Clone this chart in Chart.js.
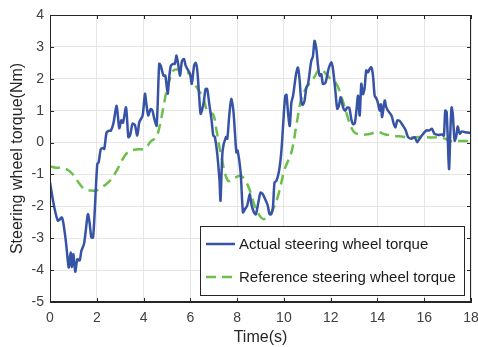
<!DOCTYPE html>
<html>
<head>
<meta charset="utf-8">
<script src="https://cdn.jsdelivr.net/npm/chart.js@4.4.0/dist/chart.umd.min.js"></script>
<style>
  html, body { margin: 0; padding: 0; background: #fff; }
  #wrap { width: 478px; height: 347px; position: relative; }
</style>
</head>
<body>
<div id="wrap"><canvas id="chart"></canvas></div>
<script>
// actual steering wheel torque
const timeActual = [0,0.17,0.34,0.51,0.63,0.70,0.80,0.88,0.93,1.0,1.08,1.17,1.27,1.34,1.45,1.52,1.62,1.69,1.77,1.84,1.91,2.02,2.08,2.17,2.26,2.32,2.42,2.52,2.6,2.71,2.85,2.96,3.05,3.12,3.25,3.35,3.42,3.53,3.63,3.73,3.82,3.96,4.06,4.12,4.2,4.3,4.38,4.46,4.56,4.67,4.74,4.85,4.93,5.03,5.1,5.17,5.27,5.34,5.41,5.49,5.56,5.64,5.73,5.8,5.88,5.99,6.06,6.16,6.23,6.3,6.38,6.44,6.51,6.58,6.65,6.72,6.81,6.91,6.98,7.05,7.15,7.22,7.25,7.29,7.38,7.52,7.58,7.67,7.75,7.84,7.91,7.97,8.02,8.15,8.25,8.33,8.43,8.54,8.61,8.72,8.8,8.92,9.0,9.1,9.2,9.3,9.39,9.46,9.53,9.6,9.68,9.78,9.86,9.92,10.0,10.06,10.11,10.17,10.25,10.32,10.39,10.46,10.53,10.6,10.67,10.74,10.8,10.88,10.96,11.03,11.1,11.17,11.24,11.31,11.39,11.46,11.53,11.6,11.67,11.78,11.91,12.03,12.1,12.2,12.28,12.35,12.43,12.53,12.62,12.71,12.8,12.88,12.95,13.03,13.1,13.17,13.24,13.31,13.38,13.45,13.52,13.59,13.66,13.74,13.81,13.88,13.94,14.0,14.1,14.15,14.2,14.31,14.38,14.45,14.6,14.7,14.77,14.85,14.95,15.09,15.2,15.31,15.45,15.59,15.7,15.8,15.95,16.09,16.2,16.33,16.44,16.6,16.76,16.84,16.9,16.96,17.06,17.12,17.17,17.22,17.3,17.37,17.43,17.52,17.61,17.75,18.0];
const torqueActual = [-1.25,-1.98,-2.45,-2.35,-2.82,-3.24,-3.92,-3.45,-3.9,-3.5,-4.05,-3.66,-3.7,-3.4,-3.19,-2.82,-2.25,-2.5,-2.98,-2.98,-2.19,-0.68,-0.62,-0.21,-0.17,-0.2,0.32,0.37,0.37,0.6,1.15,0.45,0.7,0.62,1.1,0.17,0.22,0.59,0.55,0.22,0.64,0.85,1.53,1.22,0.85,1.05,1.0,0.74,0.53,2.47,2.4,2.1,2.1,1.53,2.07,2.41,2.47,2.47,2.73,2.41,2.1,2.55,2.62,2.41,2.3,2.15,1.84,2.41,2.5,2.25,1.42,0.9,1.05,1.3,1.68,1.68,1.21,0.69,0.22,0.17,-0.35,-0.93,-1.2,-1.82,-0.25,0.17,0.12,0.9,1.37,1.0,0.27,-0.31,-0.25,-0.94,-2.19,-2.1,-1.98,-1.62,-1.93,-2.19,-2.25,-1.83,-1.57,-1.62,-1.78,-1.95,-2.25,-2.25,-2.04,-1.25,-1.2,-0.94,-0.52,0.0,0.94,1.46,1.5,0.99,0.52,1.25,1.46,1.83,2.19,2.35,1.98,1.31,1.18,1.3,1.72,1.83,2.19,2.56,2.7,3.19,2.92,2.4,2.1,2.14,1.84,1.88,2.31,2.52,2.3,1.63,1.06,1.15,1.42,1.1,1.0,1.1,1.08,0.74,0.58,0.6,1.0,1.47,0.85,1.84,1.52,1.7,2.26,2.2,2.3,2.36,2.1,1.47,1.4,1.3,1.0,1.2,0.8,1.32,1.1,1.0,0.85,0.58,0.48,0.69,0.68,0.53,0.4,0.17,0.12,0.17,0.01,0.12,0.27,0.38,0.38,0.43,0.27,0.24,0.25,0.22,1.0,0.95,-0.83,0.4,1.1,0.9,0.06,0.2,0.5,0.28,0.35,0.32,0.3];

// reference steering wheel torque
const timeRef = [0,0.2,0.5,0.77,0.98,1.27,1.48,1.84,2.0,2.41,2.65,2.91,3.19,3.41,3.76,4.05,4.33,4.54,4.69,4.83,4.97,5.12,5.26,5.47,5.76,5.97,6.19,6.54,6.75,6.97,7.11,7.32,7.61,7.9,8.18,8.47,8.75,8.97,9.15,9.46,9.75,10.03,10.32,10.53,10.74,10.96,11.24,11.55,11.96,12.24,12.45,12.67,12.88,13.05,13.31,13.6,14.02,14.3,14.74,15.02,15.45,15.88,16.3,16.73,16.95,17.05,17.5,18.0];
const torqueRef = [-0.75,-0.78,-0.8,-0.86,-1.0,-1.3,-1.46,-1.51,-1.5,-1.3,-1.12,-0.8,-0.42,-0.27,-0.21,-0.19,0.05,0.16,0.52,1.04,1.57,1.98,2.25,2.3,2.25,2.14,1.83,1.41,0.94,0.89,0.42,-0.42,-1.2,-1.1,-1.05,-1.36,-1.98,-2.3,-2.4,-2.19,-1.67,-0.84,-0.31,0.52,1.36,1.72,1.98,2.3,2.02,1.85,1.46,0.94,0.47,0.3,0.25,0.26,0.33,0.26,0.21,0.19,0.16,0.18,0.16,0.16,0.1,0.05,0.05,0.05];

const xTicks = [0,2,4,6,8,10,12,14,16,18];
const yTicks = [-5,-4,-3,-2,-1,0,1,2,3,4];
const labels = ['Actual steering wheel torque', 'Reference steering wheel torque'];

const blue = '#3753a5';
const green = '#6cbf4a';
const axisCol = '#262626';
const font = 'Liberation Sans, Arial, Helvetica, sans-serif';

const pts = (xs, ys) => xs.map((x, i) => ({ x: x, y: ys[i] }));

// box outline, inward ticks and legend, MATLAB style
const boxPlugin = {
    id: 'box',
    afterDatasetsDraw(chart) {
        const { ctx, chartArea: a, scales: { x, y } } = chart;
        ctx.save();
        ctx.strokeStyle = axisCol;
        ctx.lineWidth = 1;
        ctx.strokeRect(a.left + 0.5, a.top + 0.5, a.right - a.left - 1, a.bottom - a.top - 1);
        ctx.beginPath();
        xTicks.forEach(v => {
            const p = Math.round(x.getPixelForValue(v)) + 0.5;
            ctx.moveTo(p, a.bottom); ctx.lineTo(p, a.bottom - 4);
            ctx.moveTo(p, a.top); ctx.lineTo(p, a.top + 4);
        });
        yTicks.forEach(v => {
            const p = Math.round(y.getPixelForValue(v)) + 0.5;
            ctx.moveTo(a.left, p); ctx.lineTo(a.left + 4, p);
            ctx.moveTo(a.right, p); ctx.lineTo(a.right - 4, p);
        });
        ctx.stroke();

        // legend
        const lx = 200, ly = 226, lw = 264, lh = 69;
        ctx.fillStyle = '#fff';
        ctx.fillRect(lx, ly, lw, lh);
        ctx.strokeStyle = axisCol;
        ctx.strokeRect(lx + 0.5, ly + 0.5, lw, lh);
        const ds = chart.data.datasets;
        [244, 277].forEach((yy, i) => {
            ctx.strokeStyle = ds[i].borderColor;
            ctx.lineWidth = 2.5;
            ctx.setLineDash(ds[i].borderDash || []);
            ctx.beginPath();
            ctx.moveTo(206, yy); ctx.lineTo(235, yy);
            ctx.stroke();
            ctx.setLineDash([]);
            ctx.fillStyle = '#1a1a1a';
            ctx.font = '15px ' + font;
            ctx.textBaseline = 'middle';
            ctx.fillText(labels[i], 239, yy + 1);
        });
        ctx.restore();
    }
};

new Chart(document.getElementById('chart'), {
    type: 'line',
    data: {
        datasets: [
            { label: labels[0], data: pts(timeActual, torqueActual), borderColor: blue, borderWidth: 2.5, pointRadius: 0, tension: 0.25 },
            { label: labels[1], data: pts(timeRef, torqueRef), borderColor: green, borderWidth: 2.5, borderDash: [10, 6], pointRadius: 0, tension: 0.35 }
        ]
    },
    options: {
        responsive: true, maintainAspectRatio: false, animation: false, devicePixelRatio: 1,
        layout: { padding: { top: 15, right: 0, left: 0, bottom: 0 } },
        plugins: { legend: { display: false }, tooltip: { enabled: false } },
        scales: {
            x: {
                type: 'linear', min: 0, max: 18,
                afterBuildTicks: s => { s.ticks = xTicks.map(v => ({ value: v })); },
                afterFit: s => { s.height = 45; s.paddingRight = 7; },
                ticks: { color: '#404040', font: { family: font, size: 14 }, padding: 8, maxRotation: 0 },
                grid: { color: '#e6e6e6', drawTicks: false },
                border: { color: axisCol },
                title: { display: true, text: 'Time(s)', color: axisCol, font: { family: font, size: 16 }, padding: { top: 0, bottom: 0 } }
            },
            y: {
                type: 'linear', min: -5, max: 4,
                afterBuildTicks: s => { s.ticks = yTicks.map(v => ({ value: v })); },
                afterFit: s => { s.width = 50; },
                ticks: { color: '#404040', font: { family: font, size: 14 }, padding: 6 },
                grid: { color: '#e6e6e6', drawTicks: false },
                border: { color: axisCol },
                title: { display: true, text: 'Steering wheel torque(Nm)', color: axisCol, font: { family: font, size: 16 }, padding: { top: 8, bottom: 0 } }
            }
        }
    },
    plugins: [boxPlugin]
});
</script>
</body>
</html>
